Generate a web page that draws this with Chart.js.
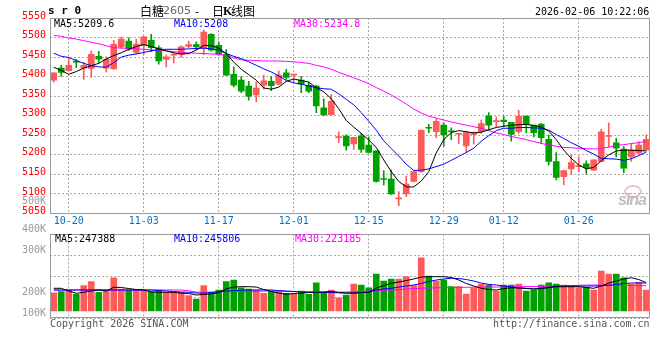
<!DOCTYPE html>
<html><head><meta charset="utf-8">
<script src="https://cdn.jsdelivr.net/npm/chart.js@4.4.0/dist/chart.umd.min.js"></script>
<style>
html,body{margin:0;padding:0;background:#fff;}
#wrap{position:relative;width:660px;height:360px;overflow:hidden;background:#fff;}
canvas{position:absolute;left:0;}
.t{position:absolute;white-space:pre;font-family:'DejaVu Sans Mono',monospace;font-size:10px;line-height:12px;}
.c{position:absolute;white-space:pre;font-family:'Noto Sans CJK SC',sans-serif;font-size:12px;line-height:12px;color:#000;}
</style></head><body>
<div id="wrap">
<canvas id="pc" style="top:0px" width="660" height="232"></canvas>
<canvas id="vc" style="top:222px" width="660" height="138"></canvas>

<div class="t" style="left:48px;top:5px;font-size:11px;font-weight:bold;">s r 0</div>
<div class="c" style="left:140px;top:5px;">白糖</div>
<div class="c" style="left:163px;top:5px;color:#666;font-family:'DejaVu Sans',sans-serif;font-size:11px;">2605</div>
<div class="c" style="left:195px;top:5px;">-</div>
<div class="c" style="left:212px;top:5px;">日</div>
<div class="c" style="left:223px;top:5px;font-family:'Liberation Serif',serif;font-weight:bold;">K</div>
<div class="c" style="left:231px;top:5px;">线图</div>
<div class="t" style="left:535px;top:6px;color:#000;">2026-02-06 10:22:06</div>

<div class="t" style="left:54px;top:18px;color:#000;">MA5:5209.6</div>
<div class="t" style="left:174px;top:18px;color:#0000ff;">MA10:5208</div>
<div class="t" style="left:294px;top:18px;color:#ff00ff;">MA30:5234.8</div>

<div class="t" style="left:22px;top:195px;color:#999;">500K</div>

<div class="t" style="left:55px;top:233px;color:#000;">MA5:247388</div>
<div class="t" style="left:174px;top:233px;color:#0000ff;">MA10:245806</div>
<div class="t" style="left:295px;top:233px;color:#ff00ff;">MA30:223185</div>

<div class="t" style="left:50px;top:318px;color:#555;">Copyright 2026 SINA.COM</div>
<div class="t" style="left:493px;top:318px;color:#555;">http://finance.sina.com.cn</div>

<div style="position:absolute;left:624px;top:185px;width:14px;height:9px;border:2px solid rgba(240,150,150,0.6);border-radius:50%;"></div>
<div style="position:absolute;left:618px;top:191px;font:italic bold 16px 'Liberation Sans',sans-serif;color:rgba(170,170,170,0.75);letter-spacing:-1px;">sina</div>
</div>
<script>
const dates = ['10-16','10-17','10-20','10-21','10-22','10-23','10-24','10-27','10-28','10-29','10-30','10-31',
'11-03','11-04','11-05','11-06','11-07','11-10','11-11','11-12','11-13','11-14','11-17','11-18','11-19','11-20','11-21','11-24','11-25','11-26','11-27','11-28',
'12-01','12-02','12-03','12-04','12-05','12-08','12-09','12-10','12-11','12-12','12-15','12-16','12-17','12-18','12-19','12-22','12-23','12-24','12-25','12-26','12-29','12-30','12-31',
'01-05','01-06','01-07','01-08','01-09','01-12','01-13','01-14','01-15','01-16','01-19','01-20','01-21','01-22','01-23','01-26','01-27','01-28','01-29','01-30',
'02-02','02-03','02-04','02-05','02-06'];
const tickDates = ['10-20','11-03','11-17','12-01','12-15','12-29','01-12','01-26'];

const opens = [5391,5422,5415,5440,5422,5421,5452,5422,5420,5476,5491,5462,5480,5493,5474,5444,5455,5457,5477,5482,5472,5508,5480,5457,5406,5391,5376,5353,5378,5388,5381,5410,5404,5391,5378,5376,5320,5303,5244,5248,5228,5248,5225,5210,5139,5138,5087,5100,5132,5157,5270,5259,5276,5261,5252,5223,5252,5259,5299,5285,5289,5283,5259,5299,5276,5279,5240,5183,5144,5164,5170,5177,5161,5183,5247,5231,5215,5195,5204,5212];
const highs = [5410,5429,5450,5444,5436,5466,5465,5451,5493,5501,5499,5496,5503,5508,5479,5455,5459,5479,5491,5489,5519,5510,5489,5469,5425,5400,5388,5387,5404,5401,5414,5419,5406,5401,5387,5378,5343,5355,5259,5251,5245,5255,5246,5211,5160,5161,5106,5146,5157,5264,5278,5293,5282,5269,5255,5261,5259,5289,5308,5297,5299,5283,5314,5299,5276,5280,5251,5206,5160,5200,5195,5185,5187,5266,5282,5242,5221,5229,5234,5251];
const lows = [5386,5401,5414,5423,5393,5398,5434,5412,5419,5472,5467,5458,5457,5464,5432,5425,5435,5449,5474,5469,5456,5465,5455,5403,5374,5359,5340,5336,5368,5364,5378,5393,5387,5359,5359,5308,5300,5302,5231,5212,5214,5206,5204,5130,5123,5098,5070,5093,5131,5155,5257,5244,5223,5239,5229,5206,5227,5255,5263,5272,5274,5235,5255,5257,5246,5229,5174,5136,5123,5150,5157,5151,5160,5182,5220,5195,5154,5183,5201,5212];
const closes = [5410,5411,5429,5437,5429,5457,5445,5444,5483,5496,5470,5483,5502,5474,5440,5451,5457,5476,5482,5476,5514,5468,5457,5404,5378,5363,5350,5371,5389,5377,5404,5398,5406,5381,5363,5325,5302,5337,5247,5223,5245,5214,5206,5132,5137,5100,5090,5125,5157,5263,5268,5286,5251,5259,5255,5257,5257,5280,5276,5287,5285,5252,5299,5278,5257,5244,5183,5142,5160,5180,5172,5167,5187,5259,5249,5217,5166,5212,5225,5240];

const ma5 = [5424,5416,5406,5413,5422,5428,5434,5445,5454,5461,5470,5477,5482,5477,5471,5466,5461,5458,5459,5468,5480,5479,5473,5459,5437,5419,5405,5391,5371,5368,5373,5388,5394,5390,5386,5372,5361,5344,5318,5288,5271,5255,5238,5219,5187,5157,5132,5118,5118,5133,5157,5205,5239,5257,5262,5259,5256,5258,5264,5270,5273,5276,5277,5278,5275,5271,5261,5239,5212,5191,5174,5164,5168,5185,5200,5210,5212,5212,5211,5210];
const ma10 = [5460,5452,5449,5441,5434,5428,5425,5424,5436,5450,5455,5458,5462,5466,5469,5470,5470,5470,5471,5472,5473,5471,5468,5459,5452,5446,5438,5429,5420,5412,5402,5390,5384,5381,5376,5372,5369,5368,5356,5342,5328,5308,5286,5263,5236,5216,5197,5176,5160,5161,5164,5170,5176,5186,5196,5206,5217,5235,5249,5262,5268,5268,5270,5270,5269,5268,5263,5252,5242,5231,5222,5211,5202,5191,5190,5189,5186,5190,5198,5207];
const ma30 = [5506,5503,5499,5496,5492,5488,5484,5479,5474,5473,5472,5471,5470,5468,5467,5466,5464,5462,5461,5460,5459,5458,5457,5454,5448,5443,5442,5441,5440,5440,5440,5439,5438,5436,5434,5429,5425,5419,5411,5404,5397,5390,5382,5372,5363,5353,5342,5330,5317,5307,5299,5294,5289,5284,5280,5276,5272,5268,5262,5256,5252,5247,5243,5239,5234,5229,5226,5222,5219,5218,5217,5216,5215,5216,5220,5224,5226,5229,5231,5235];

const volumes = [161,170,185,147,223,258,164,176,293,194,185,185,185,170,185,164,156,164,135,106,223,164,185,258,273,205,194,185,156,170,170,156,147,176,147,249,164,185,117,141,238,229,205,326,264,282,282,302,223,469,308,264,273,214,214,150,200,238,229,176,229,229,238,176,185,229,249,238,229,220,205,208,185,352,326,326,293,238,253,185].map(v => v * 1000);
const volMa5 = [200,200,176,156,165,176,185,176,209,207,198,189,185,167,165,165,163,158,154,141,145,150,163,194,211,214,214,211,189,172,158,147,154,158,163,165,167,173,163,158,158,163,165,202,224,244,255,268,282,299,302,302,302,295,273,242,220,200,189,185,198,205,202,198,194,198,207,214,214,214,214,207,200,220,246,264,282,293,277,250].map(v => v * 1000);
const volMa10 = [185,185,185,185,185,185,185,185,185,185,185,185,185,185,180,176,172,167,165,158,156,163,169,176,179,182,185,185,185,185,180,176,172,167,165,163,163,163,160,158,158,162,165,185,194,200,211,220,229,242,260,273,282,288,286,277,264,246,235,229,220,211,205,200,194,198,207,217,220,220,220,220,220,222,226,233,242,246,248,246].map(v => v * 1000);
const volMa30 = [185,185,185,185,185,185,185,185,185,185,185,185,185,185,185,185,185,185,178,167,165,167,169,171,172,172,173,174,176,176,174,172,172,171,170,169,167,165,166,167,170,172,176,179,182,185,189,194,198,201,202,204,206,207,208,209,209,210,211,211,212,213,214,215,216,217,219,221,223,224,226,228,229,229,228,226,225,224,224,223].map(v => v * 1000);

const priceMin = 5050, priceMax = 5550, priceStep = 50;
const volMin = -64000, volMax = 675000;
const volTickValues = [-64000, 120750, 305500, 490250, 675000];
const volTickLabels = ['100K', '200K', '', '300K', '400K'];

const UP = '#ff5a5a', DOWN = '#00a000';
const candleColors = closes.map((c, i) => c >= opens[i] ? UP : DOWN);
const monoFont = {family: "'DejaVu Sans Mono', monospace", size: 10};
const GRID = '#aaaaaa';

const framePlugin = {
  id: 'frame',
  afterDraw(chart) {
    const {ctx, chartArea: a} = chart;
    ctx.save();
    ctx.strokeStyle = '#999';
    ctx.lineWidth = 1;
    const l = Math.round(a.left) + 0.5, t = Math.round(a.top) + 0.5;
    const r = Math.round(a.right) - 0.5, b = Math.round(a.bottom) - 0.5;
    ctx.strokeRect(l, t, r - l, b - t);
    ctx.restore();
  }
};

const xGridColor = ctx => (tickDates.includes(dates[ctx.index]) ? GRID : 'rgba(0,0,0,0)');

new Chart(document.getElementById('pc'), {
  data: {
    labels: dates,
    datasets: [
      {type: 'line', label: 'MA5', data: ma5, borderColor: '#000000', borderWidth: 1, pointRadius: 0, tension: 0, order: 0},
      {type: 'line', label: 'MA10', data: ma10, borderColor: '#0000ff', borderWidth: 1, pointRadius: 0, tension: 0, order: 0},
      {type: 'line', label: 'MA30', data: ma30, borderColor: '#ff00ff', borderWidth: 1, pointRadius: 0, tension: 0, order: 0},
      {type: 'bar', label: 'body', data: opens.map((o, i) => [o, closes[i]]), backgroundColor: candleColors, barThickness: 6, minBarLength: 1, grouped: false, order: 1},
      {type: 'bar', label: 'wick', data: lows.map((l, i) => [l, highs[i]]), backgroundColor: candleColors, barThickness: 1, grouped: false, order: 2}
    ]
  },
  options: {
    responsive: false,
    animation: false,
    layout: {padding: {top: 18, right: 10, left: 0, bottom: 0}},
    plugins: {legend: {display: false}, tooltip: {enabled: false}},
    scales: {
      x: {
        offset: true,
        grid: {offset: false, drawTicks: false, color: xGridColor, lineWidth: 1},
        border: {display: false, dash: [2, 2]},
        ticks: {autoSkip: false, maxRotation: 0, minRotation: 0, padding: 2, color: '#0070c0', font: monoFont,
          callback: (v, i) => (tickDates.includes(dates[i]) ? dates[i] : '')},
        afterFit: s => { s.height = 18.5; }
      },
      y: {
        min: priceMin, max: priceMax,
        ticks: {stepSize: priceStep, color: '#ff0000', font: monoFont, padding: 4, labelOffset: -2,
          callback: v => String(v)},
        grid: {color: GRID, drawTicks: false, lineWidth: 1},
        border: {display: false, dash: [2, 2]},
        afterFit: s => { s.width = 50; }
      }
    }
  },
  plugins: [framePlugin]
});

new Chart(document.getElementById('vc'), {
  data: {
    labels: dates,
    datasets: [
      {type: 'line', label: 'VMA5', data: volMa5, borderColor: '#000000', borderWidth: 1, pointRadius: 0, tension: 0, order: 0},
      {type: 'line', label: 'VMA10', data: volMa10, borderColor: '#0000ff', borderWidth: 1, pointRadius: 0, tension: 0, order: 0},
      {type: 'line', label: 'VMA30', data: volMa30, borderColor: '#ff00ff', borderWidth: 1, pointRadius: 0, tension: 0, order: 0},
      {type: 'bar', label: 'volume', data: volumes, backgroundColor: candleColors, barThickness: 6, order: 1}
    ]
  },
  options: {
    responsive: false,
    animation: false,
    layout: {padding: {top: 12.3, right: 10, left: 0, bottom: 0}},
    plugins: {legend: {display: false}, tooltip: {enabled: false}},
    scales: {
      x: {
        offset: true,
        grid: {offset: false, drawTicks: false, color: xGridColor, lineWidth: 1},
        border: {display: false, dash: [2, 2]},
        ticks: {display: false, autoSkip: false},
        afterFit: s => { s.height = 41.7; }
      },
      y: {
        min: volMin, max: volMax,
        afterBuildTicks: s => { s.ticks = volTickValues.map(v => ({value: v})); },
        ticks: {color: '#999999', font: monoFont, padding: 4, labelOffset: -5,
          callback: (v, i) => volTickLabels[i]},
        grid: {color: GRID, drawTicks: false, lineWidth: 1},
        border: {display: false, dash: [2, 2]},
        afterFit: s => { s.width = 50; }
      }
    }
  },
  plugins: [framePlugin]
});
</script>
</body></html>
